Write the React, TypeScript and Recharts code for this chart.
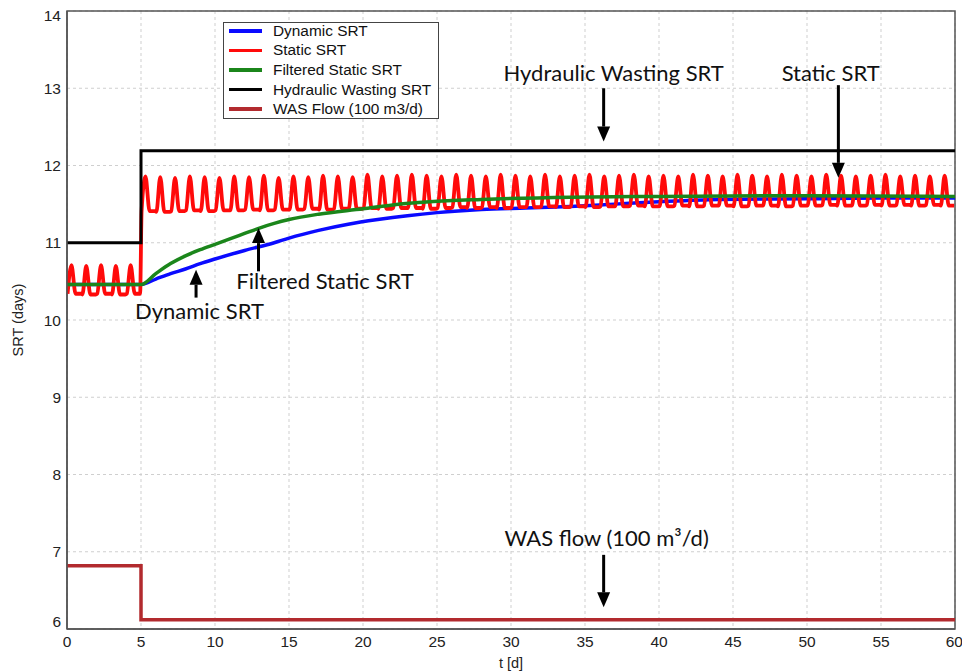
import React from 'react';
import { LineChart, Line, XAxis, YAxis, CartesianGrid, Legend, ReferenceArea, ReferenceLine, ReferenceDot, Label } from 'recharts';

// Time axis ticks (days) and SRT ticks
const xTicks = [0, 5, 10, 15, 20, 25, 30, 35, 40, 45, 50, 55, 60];
const yTicks = [6, 7, 8, 9, 10, 11, 12, 13, 14];

// Dynamic SRT (blue)
const dynamicT = [0, 5, 6, 7, 8, 9, 10, 12, 14, 15, 17, 19, 21, 23, 25, 28, 31, 34, 37, 40, 44, 50, 55, 60];
const dynamicV = [10.46, 10.46, 10.53, 10.6, 10.66, 10.73, 10.79, 10.9, 11.0, 11.06, 11.16, 11.24, 11.3, 11.35, 11.39, 11.43, 11.45, 11.47, 11.5, 11.53, 11.56, 11.57, 11.58, 11.58];

// Static SRT (red): daily peak and trough, one value per day 0..59
const staticPeak = [
  10.71, 10.7, 10.71, 10.7, 10.71,
  11.86, 11.85, 11.84, 11.86, 11.85, 11.84, 11.86, 11.85, 11.87, 11.84,
  11.86, 11.85, 11.87, 11.86, 11.85, 11.88, 11.86, 11.87, 11.88, 11.87,
  11.86, 11.88, 11.87, 11.86, 11.88, 11.87, 11.86, 11.88, 11.86, 11.87,
  11.88, 11.86, 11.87, 11.88, 11.86, 11.87, 11.86, 11.88, 11.87, 11.86,
  11.88, 11.87, 11.86, 11.88, 11.87, 11.86, 11.88, 11.87, 11.86, 11.87,
  11.88, 11.86, 11.87, 11.86, 11.87,
];
const staticTrough = [
  10.34, 10.33, 10.34, 10.33, 10.34,
  11.41, 11.4, 11.41, 11.42, 11.41, 11.42, 11.42, 11.43, 11.42, 11.43,
  11.43, 11.44, 11.43, 11.44, 11.44, 11.45, 11.44, 11.45, 11.45, 11.44,
  11.45, 11.46, 11.45, 11.46, 11.45, 11.46, 11.46, 11.47, 11.46, 11.47,
  11.46, 11.47, 11.47, 11.48, 11.47, 11.47, 11.48, 11.47, 11.48, 11.48,
  11.47, 11.48, 11.48, 11.47, 11.48, 11.48, 11.49, 11.48, 11.48, 11.49,
  11.48, 11.49, 11.48, 11.49, 11.48,
];

// Filtered Static SRT (green)
const filteredT = [0, 5, 6, 7, 8, 9, 10, 11, 12, 13, 14, 15, 17, 20, 22, 24.5, 28, 34, 40, 50, 60];
const filteredV = [10.46, 10.46, 10.6, 10.73, 10.83, 10.91, 10.98, 11.05, 11.12, 11.19, 11.25, 11.3, 11.37, 11.44, 11.49, 11.53, 11.56, 11.59, 11.6, 11.61, 11.6];

// Hydraulic Wasting SRT (black)
const hydraulicT = [0, 5, 5, 60];
const hydraulicV = [11, 11, 12.19, 12.19];

// WAS Flow (100 m3/d)
const wasT = [0, 5, 5, 60];
const wasV = [6.82, 6.82, 6.12, 6.12];

const toPoints = (ts: number[], vs: number[]) => ts.map((t, i) => ({ t, v: vs[i] }));

// each day: rise to the peak early in the day, back down to a flat trough
const staticData = staticPeak.flatMap((peak, d) => [
  { t: d + 0.04, v: staticTrough[d] },
  { t: d + 0.3, v: peak },
  { t: d + 0.58, v: staticTrough[d] },
  { t: d + 0.94, v: staticTrough[d] },
]);

const series = [
  { name: 'Dynamic SRT', color: '#0a0aff', data: toPoints(dynamicT, dynamicV), type: 'monotone' },
  { name: 'Static SRT', color: '#ff0a0a', data: staticData, type: 'monotone' },
  { name: 'Filtered Static SRT', color: '#1b861b', data: toPoints(filteredT, filteredV), type: 'monotone' },
  { name: 'Hydraulic Wasting SRT', color: '#000000', data: toPoints(hydraulicT, hydraulicV), type: 'linear' },
  { name: 'WAS Flow (100 m3/d)', color: '#b22a2e', data: toPoints(wasT, wasV), type: 'linear' },
];
const seriesOrder = series.map(s => s.name);

const annotations = [
  { text: 'Hydraulic Wasting SRT', x: 36.94, y: 13.2, from: 13.0, to: 12.31, ax: 36.26 },
  { text: 'Static SRT', x: 51.6, y: 13.2, from: 13.04, to: 11.84, ax: 52.12 },
  { text: 'Filtered Static SRT', x: 17.43, y: 10.51, from: 10.63, to: 11.19, ax: 12.94 },
  { text: 'Dynamic SRT', x: 8.95, y: 10.12, from: 10.29, to: 10.65, ax: 8.72 },
  { text: 'WAS flow (100 m\u00B3/d)', x: 36.46, y: 7.18, from: 6.96, to: 6.28, ax: 36.26 },
];

const ANNOT_FONT = 'Lato, "Open Sans", sans-serif';
const AXIS_FONT = '"Liberation Sans", Arial, sans-serif';

const Arrow = (p: any) => {
  const { x1, y1, x2, y2 } = p;
  const dir = y2 > y1 ? 1 : -1;
  const head = 15;
  return (
    <g>
      <line x1={x1} y1={y1} x2={x2} y2={y2 - dir * head} stroke="#000" strokeWidth={3} />
      <polygon points={`${x2 - 6.5},${y2 - dir * head} ${x2 + 6.5},${y2 - dir * head} ${x2},${y2}`} fill="#000" />
    </g>
  );
};

const LegendBox = ({ payload }: any) => {
  const items = [...(payload || [])].sort((a: any, b: any) => seriesOrder.indexOf(a.value) - seriesOrder.indexOf(b.value));
  return (
    <div style={{ border: '1.5px solid #444', background: '#fff', width: 214, height: 95, fontFamily: AXIS_FONT, fontSize: 15.4, color: '#111' }}>
      <div style={{ marginTop: -2 }}>
        {items.map((item: any) => (
          <div key={item.value} style={{ display: 'flex', alignItems: 'center', height: 19.6 }}>
            <span style={{ display: 'inline-block', width: 33, height: 3.5, background: item.color, marginLeft: 5, marginRight: 11 }} />
            <span style={{ whiteSpace: 'nowrap' }}>{item.value}</span>
          </div>
        ))}
      </div>
    </div>
  );
};

const YLabel = ({ viewBox }: any) => {
  const x = 18;
  const y = viewBox.y + viewBox.height / 2;
  return (
    <text x={x} y={y} transform={`rotate(-90 ${x} ${y})`} textAnchor="middle" dominantBaseline="central" fontFamily={AXIS_FONT} fontSize={14.5} fill="#222">
      SRT (days)
    </text>
  );
};

const XLabel = ({ viewBox }: any) => (
  <text x={viewBox.x + viewBox.width / 2} y={663} textAnchor="middle" dominantBaseline="central" fontFamily={AXIS_FONT} fontSize={14.5} fill="#222">
    t [d]
  </text>
);

// y tick labels: the end labels sit a little inside the plot box
const YTick = ({ x, y, payload }: any) => {
  const shift = payload.value === 14 ? 4 : payload.value === 6 ? -8 : 0;
  return (
    <text x={x} y={y + shift} textAnchor="end" dominantBaseline="central" fontFamily={AXIS_FONT} fontSize={15.5} fill="#222">
      {payload.value}
    </text>
  );
};

export default function App() {
  return (
    <div style={{ width: 962, height: 672, background: '#fff', position: 'relative' }}>
      <style>{'body{margin:0;}'}</style>
      <LineChart width={962} height={672} margin={{ top: 11, right: 7, bottom: 13, left: 0 }}>
        <CartesianGrid stroke="#cfcfcf" strokeDasharray="3 3" />
        <XAxis
          dataKey="t"
          type="number"
          domain={[0, 60]}
          ticks={xTicks}
          allowDataOverflow
          height={30}
          tickLine={false}
          tickSize={4}
          tickMargin={3}
          axisLine={{ stroke: '#555', strokeWidth: 1.5 }}
          tick={{ fill: '#222', fontSize: 15.5, fontFamily: AXIS_FONT }}
          label={<Label content={XLabel} />}
        />
        <YAxis
          type="number"
          domain={[6, 14]}
          ticks={yTicks}
          allowDataOverflow
          width={67}
          tickLine={false}
          tickSize={4}
          tickMargin={2}
          axisLine={{ stroke: '#555', strokeWidth: 1.5 }}
          tick={<YTick />}
          label={<Label content={YLabel} />}
        />
        <ReferenceArea x1={0} x2={60} y1={6} y2={14} fill="none" stroke="#555" strokeWidth={1.5} />
        {series.map(s => (
          <Line
            key={s.name}
            data={s.data}
            dataKey="v"
            name={s.name}
            type={s.type as any}
            stroke={s.color}
            strokeWidth={s.name === 'Hydraulic Wasting SRT' ? 3 : s.name === 'Static SRT' ? 3.8 : 3.5}
            dot={false}
            activeDot={false}
            isAnimationActive={false}
          />
        ))}
        {annotations.map(a => (
          <ReferenceLine
            key={`arrow-${a.text}`}
            segment={[{ x: a.ax, y: a.from }, { x: a.ax, y: a.to }]}
            shape={Arrow}
          />
        ))}
        {annotations.map(a => (
          <ReferenceDot
            key={`text-${a.text}`}
            x={a.x}
            y={a.y}
            r={1}
            shape={(p: any) => (
              <text x={p.cx} y={p.cy} textAnchor="middle" dominantBaseline="central" fontFamily={ANNOT_FONT} fontSize={22} fill="#111">
                {a.text}
              </text>
            )}
          />
        ))}
        <Legend
          layout="vertical"
          align="center"
          verticalAlign="middle"
          content={<LegendBox />}
          wrapperStyle={{ left: 223, top: 22, width: 217, height: 98 }}
        />
      </LineChart>
    </div>
  );
}
